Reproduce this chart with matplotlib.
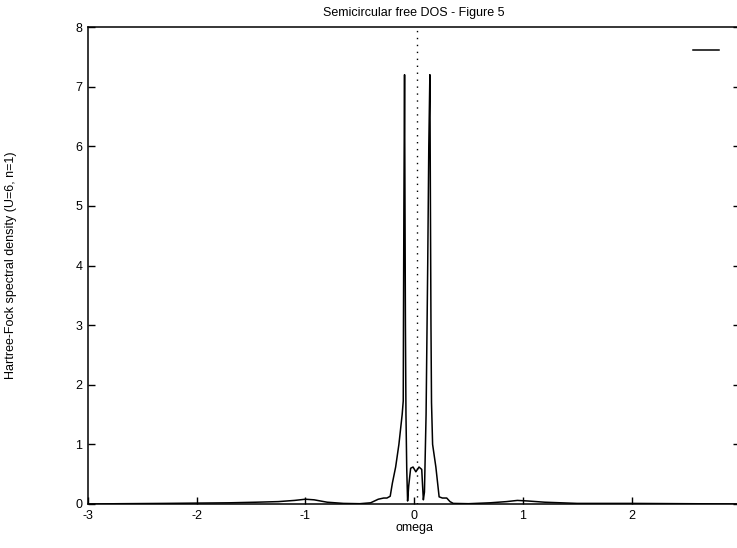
import numpy as np
import matplotlib.pyplot as plt

plt.rcParams['font.family'] = ['Liberation Sans', 'DejaVu Sans']
plt.rcParams['axes.unicode_minus'] = False

# Hartree-Fock spectral density
omega = [-3.00, -2.70, -2.30, -2.00, -1.70, -1.45, -1.25, -1.10, -1.00, -0.92,
         -0.80, -0.65, -0.50, -0.40, -0.33, -0.28, -0.25, -0.22, -0.20, -0.17,
         -0.14, -0.11, -0.10, -0.098, -0.094, -0.088, -0.084, -0.080, -0.075,
         -0.068, -0.060, -0.050, -0.032, -0.010, 0.016, 0.045, 0.070, 0.078,
         0.085, 0.095, 0.110, 0.125, 0.135, 0.145, 0.150, 0.155, 0.160, 0.170,
         0.200, 0.230, 0.260, 0.300, 0.330, 0.360, 0.50, 0.70, 0.85, 0.95,
         1.05, 1.20, 1.50, 2.00, 2.50, 3.00]
dos = [0.00, 0.005, 0.01, 0.015, 0.02, 0.03, 0.04, 0.06, 0.08, 0.07,
       0.03, 0.01, 0.005, 0.02, 0.08, 0.10, 0.10, 0.13, 0.35, 0.62,
       1.00, 1.50, 1.73, 3.0, 5.0, 7.2, 5.0, 3.0, 1.5,
       0.6, 0.05, 0.30, 0.60, 0.62, 0.54, 0.62, 0.58, 0.30,
       0.07, 0.20, 1.5, 4.0, 6.0, 7.2, 5.0, 3.0, 1.7, 1.0,
       0.62, 0.12, 0.10, 0.10, 0.04, 0.01, 0.005, 0.02, 0.04, 0.06,
       0.05, 0.03, 0.01, 0.01, 0.005, 0.00]
fermi_level = 0.03

xticks = [-3, -2, -1, 0, 1, 2, 3]
yticks = [0, 1, 2, 3, 4, 5, 6, 7, 8]

fig = plt.figure(figsize=(7.37, 5.48), dpi=100)
ax = fig.add_axes([0.1194, 0.0803, 0.885, 0.8704])

line, = ax.plot(omega, dos, color="black", lw=1.1)
ax.axvline(fermi_level, color="black", ls=(0, (1, 4)), lw=1.0)

ax.set_xlim(-3, 3)
ax.set_ylim(0, 8)
ax.set_xticks(xticks)
ax.set_yticks(yticks)
ax.tick_params(direction="in", length=5, width=1, labelsize=9, right=True,
               top=False, pad=4)
for s in ax.spines.values():
    s.set_linewidth(1.1)

ax.set_title("Semicircular free DOS - Figure 5", fontsize=9, pad=8)
ax.set_xlabel("omega", fontsize=9, labelpad=0)
ax.set_ylabel("Hartree-Fock spectral density (U=6, n=1)", fontsize=9, labelpad=42)

ax.legend([line], [" "], loc="upper right", frameon=False, markerfirst=False,
          handlelength=2.1, bbox_to_anchor=(0.985, 0.985), fontsize=9)

plt.savefig("out.png", dpi=100)
